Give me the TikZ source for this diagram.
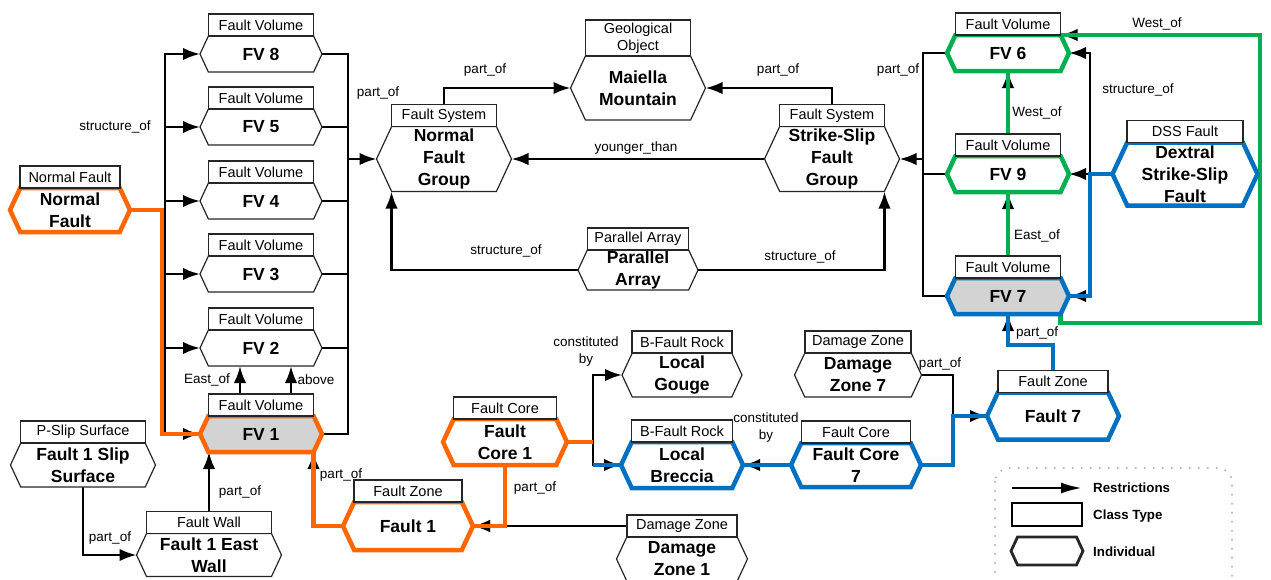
\documentclass[tikz,border=0pt]{standalone}
\usepackage{fontspec}
\setmainfont{Liberation Sans}
\usepackage{tikz}
\usetikzlibrary{shapes.symbols,positioning,arrows.meta,backgrounds}
\definecolor{hlorange}{RGB}{255,102,0}
\definecolor{hlgreen}{RGB}{0,176,80}
\definecolor{hlblue}{RGB}{0,112,192}
\definecolor{indfill}{RGB}{211,211,211}

\begin{document}
\begin{tikzpicture}[x=1pt,y=-1pt,
    ind/.style={signal,signal to=west and east,signal pointer angle=130,draw=black!85,line width=1.2pt,
      fill=white,inner sep=0pt,outer sep=0pt,align=center,font=\fontsize{17.5}{22}\selectfont\bfseries},
    cls/.style={draw=black!85,line width=1.2pt,fill=white,inner sep=0pt,outer sep=0pt,minimum height=22pt,
      align=center,font=\fontsize{14.5}{17.5}\selectfont},
    hl/.style={draw=#1,line width=4.5pt},
    rel/.style={line width=2.6pt,-{Latex[length=17pt,width=12.5pt]}},
    link/.style={line width=2.6pt},
    lbl/.style={inner sep=0pt,align=center,font=\fontsize{13.5}{17}\selectfont},
    lgtxt/.style={inner sep=0pt,anchor=west,font=\fontsize{13.3}{15}\selectfont\bfseries}]
  \useasboundingbox (0,0) rectangle (1271,579);

  % fault volumes of the normal fault group
  \node[ind,minimum width=122pt,minimum height=36pt] (fv8) at (261,54) {FV 8};
  \node[cls,minimum width=105pt,above=0pt of fv8] (fv8c) {Fault Volume};
  \node[ind,minimum width=122pt,minimum height=36pt] (fv5) at (261,127) {FV 5};
  \node[cls,minimum width=105pt,above=0pt of fv5] (fv5c) {Fault Volume};
  \node[ind,minimum width=122pt,minimum height=36pt] (fv4) at (261,201) {FV 4};
  \node[cls,minimum width=105pt,above=0pt of fv4] (fv4c) {Fault Volume};
  \node[ind,minimum width=122pt,minimum height=36pt] (fv3) at (261,274) {FV 3};
  \node[cls,minimum width=105pt,above=0pt of fv3] (fv3c) {Fault Volume};
  \node[ind,minimum width=122pt,minimum height=36pt] (fv2) at (261,348) {FV 2};
  \node[cls,minimum width=105pt,above=0pt of fv2] (fv2c) {Fault Volume};
  \node[ind,hl=hlorange,fill=indfill,minimum width=122pt,minimum height=36pt] (fv1) at (261,434) {FV 1};
  \node[cls,minimum width=105pt,above=0pt of fv1] (fv1c) {Fault Volume};

  \node[ind,hl=hlorange,minimum width=120pt,minimum height=44pt] (nf) at (70,210) {Normal\\Fault};
  \node[cls,minimum width=100pt,above=0pt of nf] (nfc) {Normal Fault};
  \node[ind,minimum width=145pt,minimum height=44pt] (ps) at (83,465) {Fault 1 Slip\\Surface};
  \node[cls,minimum width=125pt,above=0pt of ps] (psc) {P-Slip Surface};
  \node[ind,minimum width=145pt,minimum height=43pt] (fw) at (209,555) {Fault 1 East\\Wall};
  \node[cls,minimum width=125pt,above=0pt of fw] (fwc) {Fault Wall};

  % fault systems
  \node[ind,minimum width=135pt,minimum height=65pt] (nfg) at (444,159) {Normal\\Fault\\Group};
  \node[cls,minimum width=105pt,above=0pt of nfg] (nfgc) {Fault System};
  \node[ind,minimum width=135pt,minimum height=64pt] (maiella) at (638,88) {Maiella\\Mountain};
  \node[cls,minimum width=105pt,minimum height=36pt,above=0pt of maiella] (maiellac) {Geological\\Object};
  \node[ind,minimum width=135pt,minimum height=65pt] (ssfg) at (832,159) {Strike-Slip\\Fault\\Group};
  \node[cls,minimum width=105pt,above=0pt of ssfg] (ssfgc) {Fault System};
  \node[ind,minimum width=120pt,minimum height=40pt] (pa) at (638,270) {Parallel\\Array};
  \node[cls,minimum width=101pt,above=0pt of pa] (pac) {Parallel Array};

  % fault zone 1
  \node[ind,hl=hlorange,minimum width=130pt,minimum height=48pt] (fault1) at (408,526) {Fault 1};
  \node[cls,minimum width=108pt,above=0pt of fault1] (fault1c) {Fault Zone};
  \node[ind,hl=hlorange,minimum width=124pt,minimum height=46pt] (fc1) at (505,442) {Fault\\Core 1};
  \node[cls,minimum width=103pt,above=0pt of fc1] (fc1c) {Fault Core};
  \node[ind,minimum width=131pt,minimum height=44pt] (dz1) at (682,559) {Damage\\Zone 1};
  \node[cls,minimum width=110pt,above=0pt of dz1] (dz1c) {Damage Zone};
  \node[ind,minimum width=120pt,minimum height=44pt] (lg) at (682,375) {Local\\Gouge};
  \node[cls,minimum width=100pt,above=0pt of lg] (lgc) {B-Fault Rock};
  \node[ind,hl=hlblue,minimum width=122pt,minimum height=46pt] (lb) at (682,465) {Local\\Breccia};
  \node[cls,minimum width=101pt,above=0pt of lb] (lbc) {B-Fault Rock};

  % fault zone 7
  \node[ind,minimum width=127pt,minimum height=44pt] (dz7) at (858,375) {Damage\\Zone 7};
  \node[cls,minimum width=106pt,above=0pt of dz7] (dz7c) {Damage Zone};
  \node[ind,hl=hlblue,minimum width=130pt,minimum height=44pt] (fc7) at (856,465) {Fault Core\\7};
  \node[cls,minimum width=109pt,above=0pt of fc7] (fc7c) {Fault Core};
  \node[ind,hl=hlblue,minimum width=132pt,minimum height=47pt] (fault7) at (1053,416) {Fault 7};
  \node[cls,minimum width=110pt,above=0pt of fault7] (fault7c) {Fault Zone};

  % fault volumes of the strike-slip fault group
  \node[ind,hl=hlgreen,minimum width=122pt,minimum height=36pt] (fv6) at (1008,53) {FV 6};
  \node[cls,minimum width=105pt,above=0pt of fv6] (fv6c) {Fault Volume};
  \node[ind,hl=hlgreen,minimum width=122pt,minimum height=36pt] (fv9) at (1008,174) {FV 9};
  \node[cls,minimum width=105pt,above=0pt of fv9] (fv9c) {Fault Volume};
  \node[ind,hl=hlblue,fill=indfill,minimum width=122pt,minimum height=36pt] (fv7) at (1008,296) {FV 7};
  \node[cls,minimum width=105pt,above=0pt of fv7] (fv7c) {Fault Volume};
  \node[ind,hl=hlblue,minimum width=145pt,minimum height=63pt] (dss) at (1185,174) {Dextral\\Strike-Slip\\Fault};
  \node[cls,minimum width=116pt,above=0pt of dss] (dssc) {DSS Fault};

  % bends of the connectors
  \coordinate (lbus) at (165,54);
  \coordinate (rbus) at (348,54);
  \coordinate (sbus) at (923,53);
  \coordinate (dbus) at (1090,53);
  \coordinate (orbend) at (162,434);
  \coordinate (cjoin) at (593,442);
  \coordinate (f7join) at (953,416);
  \coordinate (f7bend) at (1008,345);
  \coordinate (wloop) at (1260,323);

  \begin{scope}[on background layer]
    \draw[rel] (lbus |- nf.east) |- (fv8.west);
    \draw[rel] (nf.east) -| (lbus |- fv1.west) -- (fv1.west);
    \draw[rel] (lbus |- fv5.west) -- (fv5.west);
    \draw[rel] (lbus |- fv4.west) -- (fv4.west);
    \draw[rel] (lbus |- fv3.west) -- (fv3.west);
    \draw[rel] (lbus |- fv2.west) -- (fv2.west);
    \draw[link] (fv8.east) -| (rbus |- fv1.east) -- (fv1.east);
    \draw[link] (fv5.east) -- (rbus |- fv5.east);
    \draw[link] (fv4.east) -- (rbus |- fv4.east);
    \draw[link] (fv3.east) -- (rbus |- fv3.east);
    \draw[link] (fv2.east) -- (rbus |- fv2.east);
    \draw[rel] (rbus |- nfg.west) -- (nfg.west);
    \draw[rel] ([xshift=-21pt]fv1c.north) -- ([xshift=-21pt]fv2.south);
    \draw[rel] ([xshift=30pt]fv1c.north) -- ([xshift=30pt]fv2.south);
    \draw[rel] (fwc.north) -- (fwc.north |- fv1.south);
    \draw[rel] (ps.south) |- (fw.west);
    \draw[rel] (fault1.west) -| (fv1.south -| fv1c.east);
    \draw[rel] (fc1.south) |- (fault1.east);
    \draw[rel] (dz1c.west) -- (fault1.east);
    \draw[link] (fc1.east) -- (cjoin);
    \draw[rel] (cjoin |- lb.west) |- (lg.west);
    \draw[rel] (cjoin |- lg.west) |- (lb.west);

    \draw[rel] (nfgc.north) |- (maiella.west);
    \draw[rel] (ssfgc.north) |- (maiella.east);
    \draw[rel] (ssfg.west) -- (nfg.east);
    \draw[rel] (pa.west) -| (nfg.south -| nfgc.west);
    \draw[rel] (pa.east) -| (ssfg.south -| ssfgc.east);

    \draw[link] (fv6.west) -| (sbus |- fv7.west) -- (fv7.west);
    \draw[link] (fv9.west) -- (sbus |- fv9.west);
    \draw[rel] (sbus |- ssfg.east) -- (ssfg.east);
    \draw[rel] (dbus |- fv7.east) |- (fv6.east);
    \draw[rel] (dbus |- fv6.east) |- (fv7.east);
    \draw[rel] (dss.west) -- (fv9.east);
    \draw[rel] (fv9c.north) -- (fv6.south);
    \draw[rel] (fv7c.north) -- (fv9.south);
    \draw[rel] (fv7.south -| fv7c.east) |- (wloop) |- (fv6c.south east);

    \draw[rel] (fc7.west) -- (lb.east);
    \draw[rel] (dz7.east) -| (f7join) -- (fault7.west);
    \draw[link] (fc7.east) -| (f7join);
    \draw[rel] (fault7c.north) |- (f7bend) -- (fv7.south);

    % highlighted chains
    \draw[hl=hlorange] (nf.east) -| (orbend) -- (fv1.west);
    \draw[hl=hlorange] (fault1.west) -| (fv1.south -| fv1c.east);
    \draw[hl=hlorange] (fc1.south) |- (fault1.east);
    \draw[hl=hlorange] (fc1.east) -- (cjoin);
    \draw[hl=hlblue] (cjoin |- lb.west) -- (lb.west);
    \draw[hl=hlblue] (fc7.west) -- (lb.east);
    \draw[hl=hlblue] (fc7.east) -| (f7join) -- (fault7.west);
    \draw[hl=hlblue] (fault7c.north) |- (f7bend) -- (fv7.south);
    \draw[hl=hlblue] (dss.west) -| (dbus |- fv7.east) -- (fv7.east);
    \draw[hl=hlgreen] (fv9c.north) -- (fv6.south);
    \draw[hl=hlgreen] (fv7c.north) -- (fv9.south);
    \draw[hl=hlgreen] (fv7.south -| fv7c.east) |- (wloop) |- (fv6c.south east);
  \end{scope}

  % relation labels
  \node[lbl] (l1) at (115,127) {structure\_of};
  \node[lbl] (l2) at (378,93) {part\_of};
  \node[lbl] (l3) at (485,70) {part\_of};
  \node[lbl] (l4) at (778,70) {part\_of};
  \node[lbl] (l5) at (636,148) {younger\_than};
  \node[lbl] (l6) at (506,251) {structure\_of};
  \node[lbl] (l7) at (800,257) {structure\_of};
  \node[lbl] (l8) at (898,70) {part\_of};
  \node[lbl] (l9) at (1138,90) {structure\_of};
  \node[lbl] (l10) at (1037,113) {West\_of};
  \node[lbl] (l11) at (1037,236) {East\_of};
  \node[lbl] (l12) at (1157,24) {West\_of};
  \node[lbl] (l13) at (1037,333) {part\_of};
  \node[lbl] (l14) at (940,364) {part\_of};
  \node[lbl] (l15) at (766,428) {constituted\\by};
  \node[lbl] (l16) at (586,352) {constituted\\by};
  \node[lbl] (l17) at (535,488) {part\_of};
  \node[lbl] (l18) at (341,475) {part\_of};
  \node[lbl] (l19) at (240,492) {part\_of};
  \node[lbl] (l20) at (110,538) {part\_of};
  \node[lbl] (l21) at (207,380) {East\_of};
  \node[lbl] (l22) at (316,380) {above};

  % legend
  \draw[gray!60,line width=2.2pt,line cap=round,dash pattern=on 0pt off 9pt,rounded corners=14pt]
    (995,468) rectangle (1232,610);
  \coordinate (lga) at (1012,488);
  \coordinate (lgb) at (1082,488);
  \draw[line width=2.6pt,-{Latex[length=21pt,width=11pt]}] (lga) -- (lgb);
  \node[draw,line width=2.8pt,minimum width=70pt,minimum height=23pt,inner sep=0pt] (lgcls) at (1047,514.5) {};
  \node[ind,line width=2.8pt,minimum width=72pt,minimum height=28pt] (lgind) at (1047,551) {};
  \node[lgtxt] (lgt1) at (1093,488) {Restrictions};
  \node[lgtxt] (lgt2) at (1093,516) {Class Type};
  \node[lgtxt] (lgt3) at (1093,552) {Individual};
\end{tikzpicture}
\end{document}
